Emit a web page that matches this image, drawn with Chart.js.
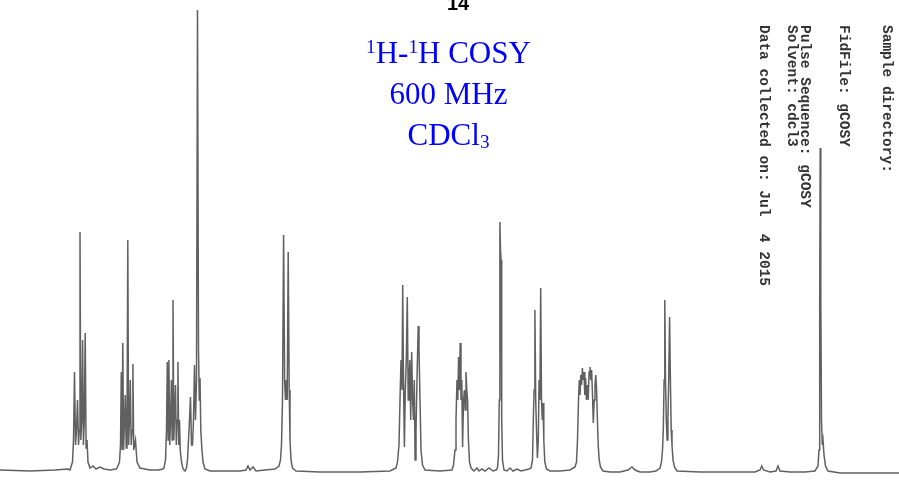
<!DOCTYPE html>
<html>
<head>
<meta charset="utf-8">
<script src="https://cdn.jsdelivr.net/npm/chart.js@4"></script>
<style>
  body { margin: 0; background: #fff; }
  #wrap { position: relative; width: 899px; height: 487px; overflow: hidden; }
  #spectrum { position: absolute; left: 0; top: 0; }
  .lbl { position: absolute; white-space: pre; }
  #num { left: 438px; top: -7px; width: 40px; text-align: center; font: bold 20px "Liberation Sans", Arial, sans-serif; line-height: 20px; color: #000; }
  #expt { left: 300px; top: 32px; width: 297px; text-align: center; font-family: "Liberation Serif", "Times New Roman", serif; font-size: 31px; line-height: 41px; color: #0000ff; white-space: normal; }
  #expt sup { font-size: 0.62em; line-height: 0; vertical-align: 0.5em; }
  #expt sub { font-size: 0.62em; line-height: 0; vertical-align: -0.18em; }
  .vert { writing-mode: vertical-rl; font: bold 14.5px "Liberation Mono", "DejaVu Sans Mono", monospace; line-height: 14px; color: #333; top: 25px; }
</style>
</head>
<body>
<div id="wrap">
  <canvas id="spectrum" width="899" height="487"></canvas>
  <div class="lbl" id="num">14</div>
  <div class="lbl" id="expt"><sup>1</sup>H-<sup>1</sup>H COSY<br>600 MHz<br>CDCl<sub>3</sub></div>
  <div class="lbl vert" style="left:880px">Sample directory:</div>
  <div class="lbl vert" style="left:837px">FidFile: gCOSY</div>
  <div class="lbl vert" style="left:798px">Pulse Sequence: gCOSY</div>
  <div class="lbl vert" style="left:785px">Solvent: cdcl3</div>
  <div class="lbl vert" style="left:757px">Data collected on: Jul  4 2015</div>
</div>
<script>
// 1H trace: chemical shift (ppm) and intensity (arb. units)
const ppm = [
  8.20, 7.90, 7.65, 7.52,
  // 7.40 multiplet
  7.50, 7.475, 7.465, 7.455, 7.445, 7.435, 7.425, 7.415, 7.407, 7.40, 7.392, 7.383, 7.374, 7.366, 7.357, 7.348, 7.339, 7.33, 7.32, 7.30, 7.27, 7.24, 7.20, 7.16, 7.10, 7.04,
  // 6.92 multiplet
  7.03, 7.005, 6.995, 6.987, 6.98, 6.972, 6.964, 6.955, 6.947, 6.938, 6.93, 6.922, 6.914, 6.905, 6.897, 6.888, 6.879, 6.871, 6.863, 6.854, 6.845, 6.83, 6.80, 6.75, 6.70, 6.62, 6.57,
  // 6.47 multiplet
  6.56, 6.545, 6.535, 6.527, 6.519, 6.511, 6.503, 6.494, 6.486, 6.478, 6.47, 6.462, 6.453, 6.445, 6.437, 6.429, 6.421, 6.413, 6.405, 6.398, 6.385, 6.37, 6.35, 6.335,
  // 6.23 (solvent singlet + neighbours)
  6.325, 6.315, 6.305, 6.295, 6.285, 6.275, 6.265, 6.255, 6.245, 6.235, 6.225, 6.215, 6.207, 6.20, 6.192, 6.182, 6.17, 6.15, 6.10,
  5.80, 5.74, 5.72, 5.70, 5.67, 5.64, 5.55, 5.45, 5.41,
  // 5.34 doublet
  5.395, 5.385, 5.375, 5.364, 5.354, 5.345, 5.337, 5.328, 5.318, 5.308, 5.30, 5.29, 5.275, 5.24, 5.00, 4.60, 4.30, 4.24,
  // 4.10 multiplet
  4.225, 4.21, 4.20, 4.19, 4.18, 4.173, 4.165, 4.156, 4.147, 4.137, 4.127, 4.118, 4.11, 4.102, 4.093, 4.083, 4.074, 4.065, 4.057, 4.049, 4.04, 4.03, 4.018, 4.01, 4.00, 3.99, 3.975, 3.95, 3.80, 3.68,
  // 3.59 multiplet
  3.665, 3.65, 3.64, 3.63, 3.622, 3.614, 3.606, 3.598, 3.59, 3.582, 3.574, 3.565, 3.556, 3.548, 3.54, 3.532, 3.524, 3.516, 3.505, 3.49, 3.46, 3.43, 3.41, 3.38, 3.35, 3.31, 3.27, 3.24,
  // 3.20 singlet
  3.225, 3.215, 3.207, 3.201, 3.195, 3.189, 3.183, 3.175, 3.16, 3.13, 3.10, 3.07, 3.03, 2.99, 2.95, 2.91,
  // 2.82 multiplet
  2.89, 2.875, 2.867, 2.859, 2.851, 2.843, 2.835, 2.826, 2.817, 2.809, 2.801, 2.793, 2.785, 2.777, 2.77, 2.762, 2.752, 2.735, 2.70, 2.60, 2.50, 2.45,
  // 2.32 multiplet
  2.435, 2.425, 2.415, 2.407, 2.40, 2.392, 2.384, 2.376, 2.368, 2.36, 2.352, 2.344, 2.336, 2.327, 2.318, 2.309, 2.30, 2.292, 2.284, 2.275, 2.267, 2.258, 2.25, 2.242, 2.234, 2.226, 2.218, 2.208, 2.195, 2.17, 2.10, 2.00, 1.92, 1.88, 1.85, 1.80, 1.70, 1.64, 1.60,
  // 1.53 doublet
  1.585, 1.575, 1.567, 1.559, 1.552, 1.545, 1.537, 1.529, 1.521, 1.513, 1.504, 1.496, 1.488, 1.48, 1.47, 1.455, 1.43, 1.20, 0.90, 0.65, 0.60, 0.582, 0.565, 0.50, 0.44, 0.42, 0.40, 0.30, 0.15, 0.05, 0.02,
  // TMS
  0.01, 0.003, -0.002, -0.008, -0.015, -0.023, -0.03, -0.04, -0.055, -0.08, -0.20, -0.40, -0.60, -0.79
];

const intensity = [
  1, 0, 1, 2,
  1, 9, 31, 99, 26, 41, 71, 26, 41, 239, 31, 51, 131, 26, 51, 138, 23, 31, 9, 3, 5, 2, 4, 2, 1, 2,
  3, 9, 26, 99, 21, 128, 21, 51, 76, 23, 41, 231, 26, 51, 91, 26, 41, 107, 21, 26, 31, 9, 3, 2, 1, 1, 2,
  3, 11, 41, 109, 31, 111, 26, 51, 91, 31, 171, 31, 61, 86, 26, 51, 109, 26, 51, 21, 9, 2, 0, 3,
  11, 31, 51, 74, 26, 26, 51, 106, 51, 91, 461, 121, 71, 93, 41, 23, 9, 2, 0,
  0, 1, 5, 1, 4, 0, 1, 2, 5,
  11, 26, 71, 236, 91, 71, 91, 71, 219, 81, 31, 11, 3, 0, -1, -1, 0, 3,
  9, 26, 71, 111, 81, 186, 91, 24, 81, 111, 174, 71, 91, 111, 51, 119, 71, 51, 91, 11, 41, 91, 145, 121, 71, 21, 6, 1, 0, 1,
  6, 21, 51, 91, 71, 114, 81, 128, 71, 91, 24, 71, 81, 61, 99, 81, 71, 31, 9, 3, 0, 3, 0, 2, 0, 3, 0, 1,
  3, 16, 71, 249, 221, 211, 51, 11, 1, 0, 3, 0, 2, 0, 1, 2,
  3, 11, 51, 81, 161, 71, 41, 13, 31, 91, 71, 183, 71, 51, 68, 31, 9, 2, 0, 0, 1, 4,
  9, 31, 71, 91, 76, 96, 86, 103, 91, 99, 76, 93, 71, 86, 71, 99, 104, 91, 101, 76, 48, 71, 86, 96, 81, 51, 26, 11, 4, 0, -1, -1, 1, 4, 1, -1, -1, 0, 3,
  9, 21, 41, 91, 171, 91, 51, 31, 51, 91, 154, 91, 41, 26, 11, 4, 0, -1, -1, -1, 1, 5, 1, -1, 0, 5, 0, -1, -1, 0, 5,
  21, 171, 323, 171, 51, 26, 31, 16, 5, 0, -2, -2, -2, -2
];

const ctx = document.getElementById('spectrum').getContext('2d');

const trace = ppm.map((p, i) => ({ x: p, y: intensity[i] }));

new Chart(ctx, {
    type: 'line',
    data: {
        datasets: [{
            data: trace,
            borderColor: '#606060',
            borderWidth: 1.5,
            pointRadius: 0,
            tension: 0,
            fill: false
        }]
    },
    options: {
        responsive: false,
        animation: false,
        layout: { padding: 0 },
        scales: {
            x: { type: 'linear', reverse: true, min: -0.79, max: 8.20, display: false },
            y: { min: -16, max: 471, display: false }
        },
        plugins: {
            legend: { display: false },
            tooltip: { enabled: false }
        }
    }
});
</script>
</body>
</html>
